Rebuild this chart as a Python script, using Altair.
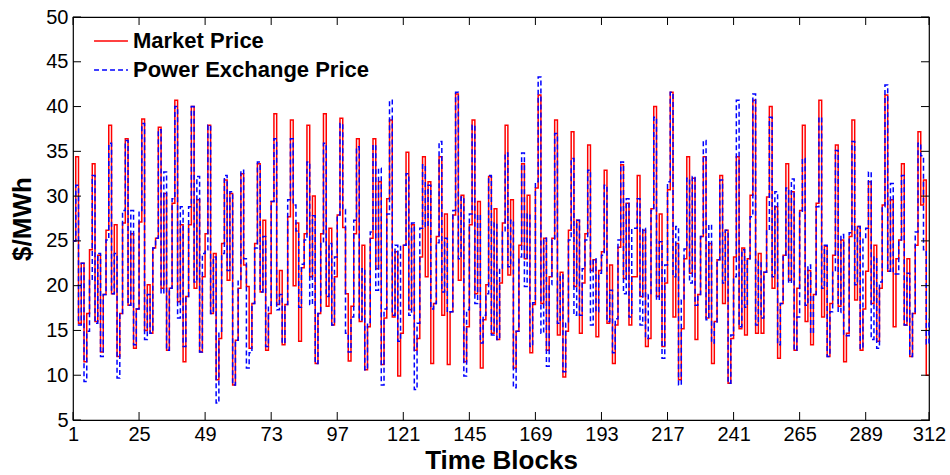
import altair as alt
import pandas as pd

# ---- data (312 time blocks = 52 groups of 6) ----
market_price = [
    25, 34.4, 15.8, 22.5, 11.5, 16.9,
    24, 33.6, 16, 23.4, 12.6, 19,
    26.2, 37.9, 19.1, 26.8, 12.1, 16.9,
    27, 36.4, 17.8, 25.8, 13, 17.4,
    27.1, 38.6, 15, 20.1, 14.7, 24.2,
    25.3, 37.7, 19.7, 30.3, 12.8, 19.7,
    29.2, 40.7, 18.2, 26.8, 11.5, 18.8,
    26.8, 40, 19.7, 29.6, 12.6, 21,
    25.8, 37.9, 16.9, 23.6, 9.5, 14.1,
    24.7, 31.8, 20.6, 30.3, 8.9, 13.9,
    19.7, 32.5, 22.3, 19.9, 13, 18,
    24.7, 33.6, 19.3, 27.3, 12.8, 16.9,
    29.4, 39.2, 17.9, 21.7, 13.4, 17.9,
    27.7, 38.5, 20, 27, 13.8, 22,
    25.8, 37.9, 21, 30, 11.3, 16.9,
    25.8, 39.2, 17.7, 26.4, 15.6, 21,
    27.9, 38.7, 26.5, 19.1, 11.6, 17.7,
    25.8, 36.4, 16, 24.5, 10.6, 15.4,
    25.3, 36.4, 21.9, 31.6, 11.2, 16.4,
    29.7, 38.5, 16.5, 23.8, 9.9, 14.7,
    24.5, 34.9, 17.3, 26.8, 12.8, 14.1,
    23.2, 34.4, 21, 31.6, 11.3, 18,
    25.5, 34.4, 16.7, 28, 11.2, 17.1,
    27.9, 41.4, 20.6, 30.1, 11.5, 15.4,
    26.8, 38.5, 19.1, 29.4, 10.8, 16.2,
    20.1, 32.2, 14.7, 28.6, 14, 20.3,
    27, 37.9, 21.2, 29.6, 10.8, 14.9,
    24.5, 33.6, 23, 30.1, 12.5, 17.9,
    30.9, 41.3, 18, 25.3, 12.8, 21,
    25.3, 38.5, 14.5, 21.5, 9.8, 14.9,
    26.2, 37.2, 19.9, 27.3, 14.7, 20.3,
    25.8, 35.7, 21.7, 22.9, 14.3, 21.7,
    23.8, 32.9, 15.8, 22.3, 11.3, 15.6,
    24.3, 33.5, 20.8, 29.2, 15.6, 21,
    21, 32.3, 18.8, 26.2, 13.2, 14.1,
    28.6, 40, 18.8, 28, 13.2, 20.3,
    30.7, 41.6, 16.5, 24.7, 9.5, 15.2,
    23, 34.4, 21.4, 32, 14, 19,
    25.5, 34.4, 16.4, 24.7, 11.3, 16,
    22.9, 32.3, 18, 26.2, 9.1, 14.1,
    23.2, 34.4, 15.2, 24.2, 14.5, 23,
    30.1, 40.7, 14.7, 23.6, 14.7, 21.5,
    29.9, 40, 19.7, 28.8, 11.9, 18,
    23.4, 33.6, 20.6, 30.5, 12.8, 19.7,
    28.4, 37.9, 16, 21.7, 13.4, 19,
    29.2, 40.7, 16.5, 24.4, 12.1, 18,
    23.4, 35.7, 17.7, 25.1, 11.5, 14.7,
    25.5, 38.5, 18.4, 26.6, 12.8, 17.4,
    21.6, 31.6, 18, 24.5, 13.8, 19.7,
    29, 41.3, 21.6, 29.6, 15.4, 23,
    25.1, 33.6, 15.6, 23, 12.1, 16.9,
    24.5, 37.2, 29, 31.8, 10, 10,
]

exchange_price = [
    25, 31.2, 15.6, 22.5, 9.3, 14.9,
    20.6, 32.3, 15.8, 23.6, 12.1, 19,
    25.1, 35.9, 19.1, 23.6, 9.7, 16.9,
    28.4, 36.2, 17.8, 28.4, 13.4, 17.4,
    28.4, 38.1, 14, 19, 14.7, 24.2,
    25.3, 37.4, 19.1, 32.7, 12.8, 19.7,
    29.7, 40, 16.4, 28.8, 13.2, 18.8,
    28.8, 40, 20.4, 32.2, 12.6, 23.6,
    24, 37.9, 16.9, 23.2, 6.9, 14.9,
    23.6, 32.3, 21.7, 30.5, 8.9, 13.9,
    20.6, 32.9, 23, 10.8, 12.5, 18,
    24.2, 33.8, 19.3, 25.5, 13.2, 17.8,
    29.4, 36.4, 17.3, 19, 13.6, 17.9,
    29.6, 36.4, 29, 26.1, 17.6, 22.4,
    25.1, 33.8, 17.9, 27.8, 11.3, 16.9,
    24.7, 35.9, 18.8, 24.7, 15.6, 23.2,
    27.9, 38.1, 28.5, 14.7, 12.6, 16.5,
    27.3, 35.5, 16.2, 21.9, 10.6, 15.9,
    26, 35.7, 19.5, 33.1, 8.9, 17.4,
    28, 40.7, 16.7, 24.5, 13.8, 24.5,
    24.5, 32.5, 16.7, 27, 8.4, 15.8,
    26.4, 33.5, 26.6, 31.2, 17.4, 18,
    24.8, 36.1, 19.3, 25.3, 17, 17.1,
    28.4, 41.6, 23, 29.9, 9.9, 17.3,
    28, 37.9, 18, 27.9, 13.6, 16.7,
    19.1, 32.3, 14.5, 27, 14, 21.8,
    26, 34.8, 22.1, 27.3, 8.6, 14.9,
    23.2, 34.8, 19.9, 28, 13.2, 18.1,
    31.6, 43.3, 14.7, 25.3, 11, 20.1,
    25.1, 37, 15.8, 21.2, 10.4, 15.8,
    25.1, 34.2, 16.7, 27.3, 16.7, 21.9,
    25.1, 32.9, 15.6, 23, 17.1, 21.4,
    23.4, 31.2, 16, 19.5, 12.5, 16.3,
    25.1, 33.8, 19.1, 29.7, 16.5, 26.4,
    26.4, 29.7, 15.6, 26.4, 14.1, 19,
    28.4, 38.8, 18.4, 24.9, 11.9, 22.3,
    31.6, 41.6, 21, 26.6, 8.9, 18.4,
    24.1, 32, 20.3, 32.2, 17.8, 19,
    25.5, 36.2, 16.2, 26.8, 13.6, 15.8,
    22.9, 31.8, 20.3, 26.2, 9.1, 14.5,
    21, 40.7, 15.4, 24, 17.6, 23,
    27.7, 41.4, 15.6, 22.7, 16.4, 21.5,
    26.2, 38.8, 21, 30.5, 13.4, 18,
    23.4, 30.9, 20.3, 31.9, 12.8, 16.5,
    28.2, 34.2, 17.8, 22.3, 14.7, 19,
    28.8, 38.8, 19.7, 24.5, 12.1, 17.1,
    21.7, 35.1, 17, 25.7, 14.5, 14.4,
    25.9, 36.1, 20.1, 26.6, 13, 25.3,
    26.4, 32.7, 14, 23.2, 13, 20.4,
    28.8, 42.4, 21.6, 31.4, 21.3, 21.3,
    25.1, 32.3, 15.6, 21.4, 12.1, 17.1,
    26, 35.9, 34.5, 24, 13.5, 16.3,
]

series_names = ["Market Price", "Power Exchange Price"]
series_colors = ["#ff0000", "#0000ff"]
x_tick_values = [1, 25, 49, 73, 97, 121, 145, 169, 193, 217, 241, 265, 289, 312]
y_tick_values = [5, 10, 15, 20, 25, 30, 35, 40, 45, 50]

n = len(market_price)
blocks = list(range(1, n + 1))
df = pd.DataFrame({
    "block": blocks + blocks,
    "price": market_price + exchange_price,
    "series": [series_names[0]] * n + [series_names[1]] * n,
})

W, H = 856, 403
FONT = "Liberation Sans"
TICK = 8

xs = alt.Scale(domain=[1, 312], nice=False, zero=False)
ys = alt.Scale(domain=[5, 50], nice=False, zero=False)

x_axis = alt.Axis(values=x_tick_values, title="Time Blocks", titleX=W / 2, titleY=40,
                  titleBaseline="middle", titleFontSize=26, labelPadding=4, labelFlush=False)
y_axis = alt.Axis(values=y_tick_values, title="$/MWh", titleAngle=270, titleX=-51,
                  titleY=H / 2, titleAlign="center", titleBaseline="middle",
                  titleFontSize=26, labelPadding=5, labelFlush=False)

legend_kw = dict(
    title=None, orient="none", legendX=20, legendY=6,
    labelFont=FONT, labelFontSize=22, labelFontWeight="bold", labelColor="black",
    labelLimit=500, symbolSize=1150, symbolStrokeWidth=1.5, symbolType="stroke",
    rowPadding=0, labelOffset=4, padding=0,
)

lines = alt.Chart(df).mark_line(interpolate="step-after", strokeWidth=1.5).encode(
    x=alt.X("block:Q", scale=xs, axis=x_axis),
    y=alt.Y("price:Q", scale=ys, axis=y_axis),
    color=alt.Color("series:N", scale=alt.Scale(domain=series_names, range=series_colors),
                    legend=alt.Legend(**legend_kw)),
    strokeDash=alt.StrokeDash("series:N", scale=alt.Scale(domain=series_names, range=[[1, 0], [5, 3]]),
                              legend=alt.Legend(**legend_kw)),
)

xt = pd.DataFrame({"block": x_tick_values})
yt = pd.DataFrame({"price": y_tick_values})

tick_bottom = alt.Chart(xt).mark_rule(color="black", strokeWidth=1).encode(
    x=alt.X("block:Q", scale=xs, axis=x_axis), y=alt.value(H), y2=alt.value(H - TICK))
tick_top = alt.Chart(xt).mark_rule(color="black", strokeWidth=1).encode(
    x=alt.X("block:Q", scale=xs, axis=x_axis), y=alt.value(0), y2=alt.value(TICK))
tick_left = alt.Chart(yt).mark_rule(color="black", strokeWidth=1).encode(
    y=alt.Y("price:Q", scale=ys, axis=y_axis), x=alt.value(0), x2=alt.value(TICK))
tick_right = alt.Chart(yt).mark_rule(color="black", strokeWidth=1).encode(
    y=alt.Y("price:Q", scale=ys, axis=y_axis), x=alt.value(W), x2=alt.value(W - TICK))

chart = alt.layer(lines, tick_bottom, tick_top, tick_left, tick_right).properties(
    width=W, height=H,
    padding={"left": 73, "top": 17, "right": 21, "bottom": 55},
    autosize=alt.AutoSizeParams(type="none"),
    background="white",
).configure_view(
    stroke="black", strokeWidth=1.2,
).configure_axis(
    tickSize=0, domain=False, grid=False,
    labelFont=FONT, labelFontSize=20, labelColor="black",
    titleFont=FONT, titleFontWeight="bold", titleColor="black",
)

chart.save("out.html", embed_options={"renderer": "svg", "actions": False})
